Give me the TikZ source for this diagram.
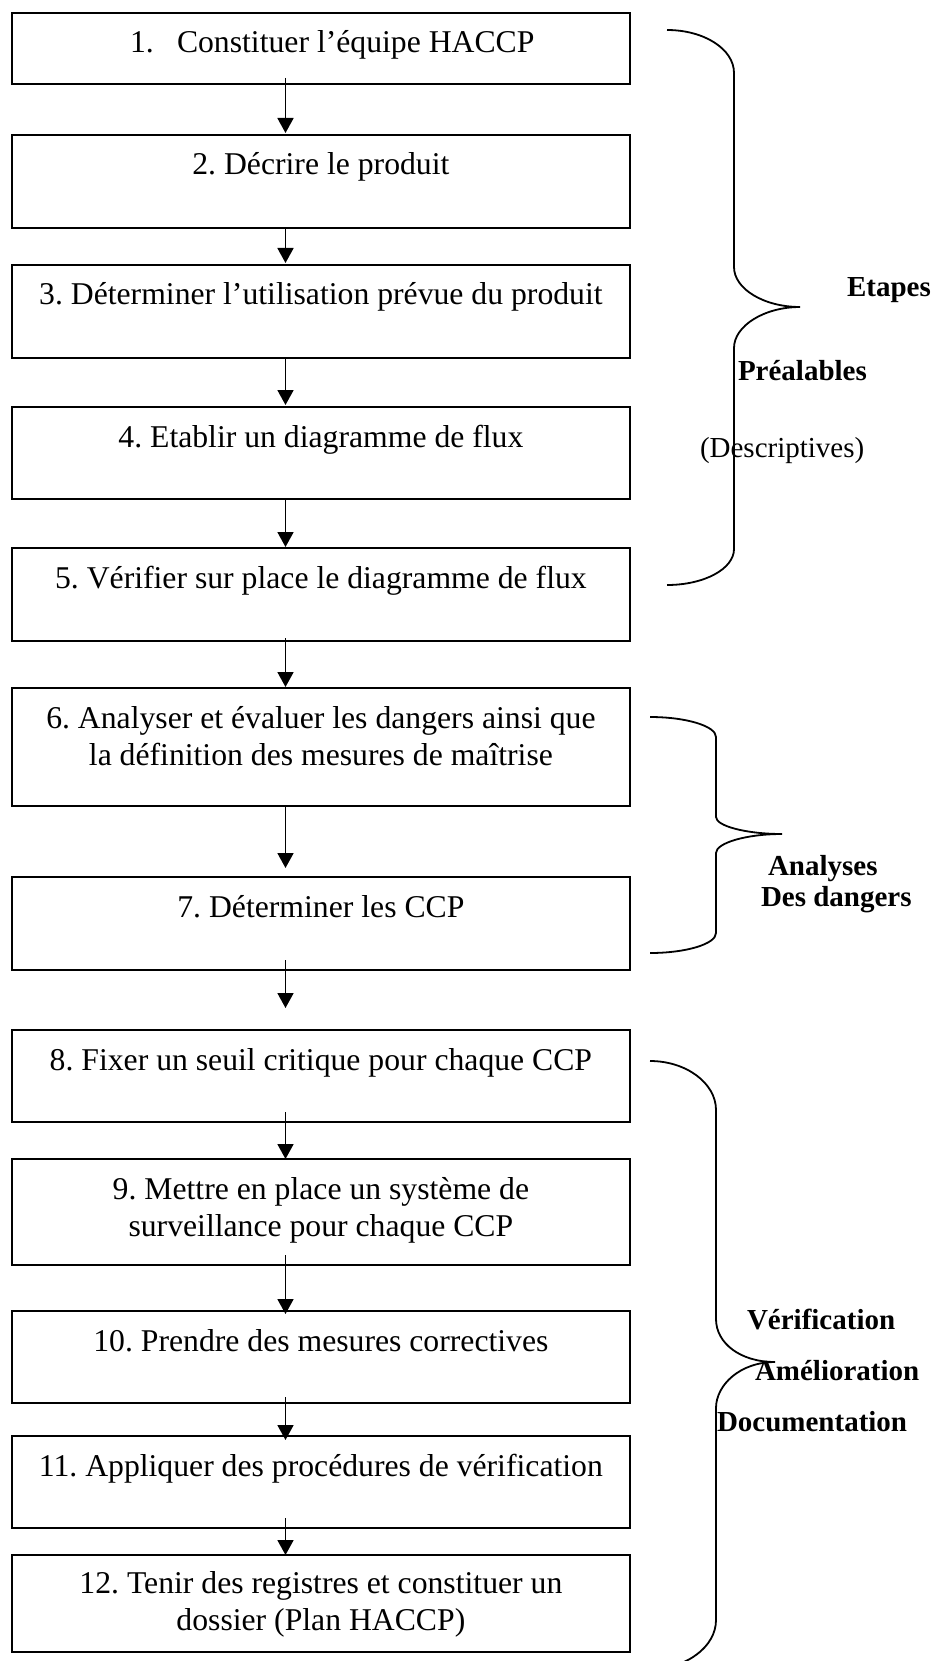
\documentclass[tikz,border=0pt]{standalone}
\usepackage{fontspec}
\setmainfont{Liberation Serif}
\usetikzlibrary{arrows.meta}
\frenchspacing
\begin{document}
\begin{tikzpicture}[x=1pt,y=-1pt,
  stepbox/.style={draw, line width=1.8pt, minimum width=618.3pt, inner sep=0pt, outer sep=0pt},
  steptext/.style={inner sep=0pt, outer sep=0pt, anchor=base, font=\fontsize{31.7pt}{37pt}\selectfont},
  flow/.style={line width=1.8pt, -{Triangle[length=15pt,width=16pt]}},
  brace/.style={line width=1.8pt},
  tag/.style={inner sep=0pt, outer sep=0pt, anchor=base west, font=\bfseries\fontsize{29pt}{34pt}\selectfont}]

% page frame
\path[fill=white, use as bounding box] (0,0) rectangle (934,1661);
\clip (0,0) rectangle (934,1661);

% the twelve HACCP steps
\node[stepbox, minimum height=71pt]  (b1)  at (320.9,48.5)  {};
\node[stepbox, minimum height=93pt]  (b2)  at (320.9,181.5) {};
\node[stepbox, minimum height=93pt]  (b3)  at (320.9,311.5) {};
\node[stepbox, minimum height=92pt]  (b4)  at (320.9,453)   {};
\node[stepbox, minimum height=93pt]  (b5)  at (320.9,594.5) {};
\node[stepbox, minimum height=118pt] (b6)  at (320.9,747)   {};
\node[stepbox, minimum height=93pt]  (b7)  at (320.9,923.5) {};
\node[stepbox, minimum height=92pt]  (b8)  at (320.9,1076)  {};
\node[stepbox, minimum height=106pt] (b9)  at (320.9,1212)  {};
\node[stepbox, minimum height=92pt]  (b10) at (320.9,1357)  {};
\node[stepbox, minimum height=92pt]  (b11) at (320.9,1482)  {};
\node[stepbox, minimum height=97pt]  (b12) at (320.9,1603.5){};

% step texts, first baseline 40pt below each box top
\node[steptext, anchor=base west] (t1) at ([xshift=118.3pt,yshift=-40pt]b1.north west) {1.\hspace{23.2pt}Constituer l’équipe HACCP};
\node[steptext] (t2)  at ([yshift=-40pt]b2.north)  {2. Décrire le produit};
\node[steptext] (t3)  at ([yshift=-40pt]b3.north)  {3. Déterminer l’utilisation prévue du produit};
\node[steptext] (t4)  at ([yshift=-40pt]b4.north)  {4. Etablir un diagramme de flux};
\node[steptext] (t5)  at ([yshift=-40pt]b5.north)  {5. Vérifier sur place le diagramme de flux};
\node[steptext] (t6)  at ([yshift=-40pt]b6.north)  {\begin{tabular}[t]{@{}c@{}}6. Analyser et évaluer les dangers ainsi que\\la définition des mesures de maîtrise\end{tabular}};
\node[steptext] (t7)  at ([yshift=-40pt]b7.north)  {7. Déterminer les CCP};
\node[steptext] (t8)  at ([yshift=-40pt]b8.north)  {8. Fixer un seuil critique pour chaque CCP};
\node[steptext] (t9)  at ([yshift=-40pt]b9.north)  {\begin{tabular}[t]{@{}c@{}}9. Mettre en place un système de\\surveillance pour chaque CCP\end{tabular}};
\node[steptext] (t10) at ([yshift=-40pt]b10.north) {10. Prendre des mesures correctives};
\node[steptext] (t11) at ([yshift=-40pt]b11.north) {11. Appliquer des procédures de vérification};
\node[steptext] (t12) at ([yshift=-38pt]b12.north) {\begin{tabular}[t]{@{}c@{}}12. Tenir des registres et constituer un\\dossier (Plan HACCP)\end{tabular}};

% arrows between consecutive steps
\draw[flow] ([xshift=-35.4pt,yshift=6pt]b1.south)   -- ([xshift=-35.4pt,yshift=2pt]b2.north);
\draw[flow] ([xshift=-35.4pt]b2.south)              -- ([xshift=-35.4pt,yshift=2pt]b3.north);
\draw[flow] ([xshift=-35.4pt]b3.south)              -- ([xshift=-35.4pt,yshift=2pt]b4.north);
\draw[flow] ([xshift=-35.4pt]b4.south)              -- ([xshift=-35.4pt,yshift=1pt]b5.north);
\draw[flow] ([xshift=-35.4pt,yshift=3pt]b5.south)   -- ([xshift=-35.4pt,yshift=1pt]b6.north);
\draw[flow] ([xshift=-35.4pt]b6.south)              -- ([xshift=-35.4pt,yshift=9pt]b7.north);
\draw[flow] ([xshift=-35.4pt,yshift=10pt]b7.south)  -- ([xshift=-35.4pt,yshift=22pt]b8.north);
\draw[flow] ([xshift=-35.4pt,yshift=10pt]b8.south)  -- ([xshift=-35.4pt]b9.north);
\draw[flow] ([xshift=-35.4pt,yshift=10pt]b9.south)  -- ([xshift=-35.4pt,yshift=-3pt]b10.north);
\draw[flow] ([xshift=-35.4pt,yshift=6pt]b10.south)  -- ([xshift=-35.4pt,yshift=-4pt]b11.north);
\draw[flow] ([xshift=-35.4pt,yshift=10pt]b11.south) -- ([xshift=-35.4pt]b12.north);

% curly braces grouping the steps
\draw[brace] (667,30) .. controls (704,30) and (734,49) .. (734,73) -- (734,267)
  .. controls (734,289) and (764,307) .. (800,307)
  .. controls (764,307) and (734,326) .. (734,348) -- (734,549)
  .. controls (734,569) and (704,585) .. (667,585);
\draw[brace] (650,717) .. controls (686,717) and (716,726) .. (716,737) -- (716,817)
  .. controls (716,826) and (746,834) .. (782,834)
  .. controls (746,834) and (716,843) .. (716,853) -- (716,933)
  .. controls (716,944) and (686,953) .. (650,953);
\draw[brace] (650,1061) .. controls (686,1061) and (716,1083) .. (716,1110) -- (716,1319)
  .. controls (716,1343) and (740,1362) .. (775,1362)
  .. controls (740,1362) and (716,1385) .. (716,1408) -- (716,1620)
  .. controls (716,1647) and (686,1669) .. (650,1669);

% group labels
\node[tag] (l1) at (847,297)  {Etapes};
\node[tag] (l2) at (738,380)  {Préalables};
\node[tag, font=\fontsize{29pt}{34pt}\selectfont] (l3) at (700,457) {(Descriptives)};
\node[tag] (l4) at (768,875)  {Analyses};
\node[tag] (l5) at (761,906)  {Des dangers};
\node[tag] (l6) at (747,1329) {Vérification};
\node[tag] (l7) at (755,1380) {Amélioration};
\node[tag] (l8) at (717,1431) {Documentation};
\end{tikzpicture}
\end{document}
